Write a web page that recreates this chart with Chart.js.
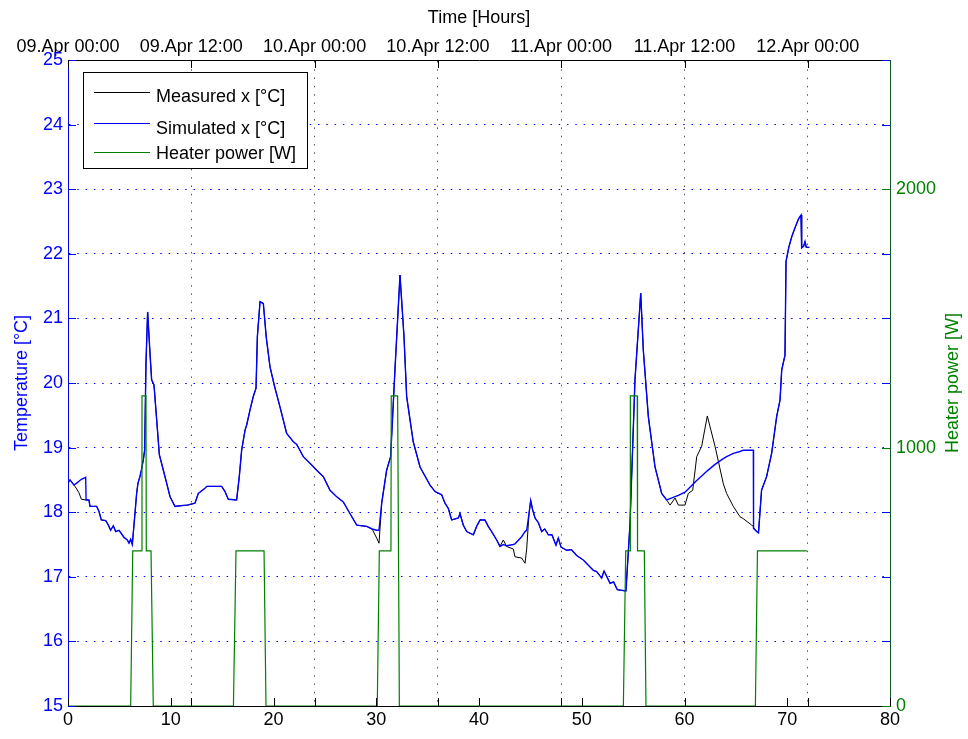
<!DOCTYPE html>
<html>
<head>
<meta charset="utf-8">
<script src="https://cdn.jsdelivr.net/npm/chart.js@4.4.1/dist/chart.umd.min.js"></script>
<style>
  html, body { margin: 0; padding: 0; background: #ffffff; }
  #wrap { width: 968px; height: 739px; }
</style>
</head>
<body>
<div id="wrap"><canvas id="c" width="968" height="739"></canvas></div>
<script>
// Time axis in hours since 09.Apr 00:00
const hours = [
  0.00, 0.10, 0.20, 0.58, 0.85, 1.07, 1.30, 1.72, 1.76, 2.04, 2.14, 2.79, 3.02, 3.24, 3.67, 3.93,
  4.15, 4.41, 4.64, 4.96, 5.19, 5.45, 5.77, 5.94, 6.10, 6.26, 6.49, 6.68, 6.81, 7.00, 7.14, 7.33,
  7.46, 7.59, 7.75, 7.98, 8.14, 8.37, 8.63, 8.89, 9.28, 9.60, 9.93, 10.41, 10.90, 11.61, 12.36, 12.68,
  13.33, 13.50, 14.96, 15.28, 15.60, 16.41, 16.67, 16.90, 17.23, 17.39, 17.71, 18.03, 18.30, 18.43, 18.69, 19.01,
  19.30, 19.66, 20.10, 20.63, 21.28, 21.93, 22.26, 22.90, 23.72, 24.20, 24.85, 25.50, 26.15, 26.79, 27.44, 28.10,
  29.07, 29.60, 30.04, 30.27, 30.53, 31.01, 31.40, 31.82, 32.31, 32.70, 32.96, 33.60, 34.26, 35.23, 35.72, 36.37,
  36.69, 37.01, 37.34, 37.99, 38.15, 38.47, 38.80, 39.45, 39.77, 40.10, 40.58, 40.90, 41.23, 41.72, 42.04, 42.37,
  42.69, 43.34, 43.50, 44.15, 44.48, 44.64, 44.87, 45.03, 45.20, 45.45, 45.77, 46.10, 46.40, 46.75, 47.10, 47.49,
  47.72, 47.98, 48.53, 49.00, 49.50, 50.15, 50.64, 51.13, 51.45, 51.94, 52.17, 52.45, 52.75, 53.10, 53.46, 54.30,
  54.70, 55.18, 55.74, 55.99, 56.48, 57.13, 57.78, 58.26, 58.60, 59.08, 59.40, 60.05, 60.37, 60.80, 61.19, 61.67,
  62.22, 62.97, 63.78, 64.10, 64.75, 65.40, 65.72, 66.54, 66.70, 66.72, 67.02, 67.20, 67.50, 67.99, 68.48, 68.97,
  69.30, 69.46, 69.78, 69.88, 70.15, 70.43, 70.70, 70.92, 71.10, 71.34, 71.40, 71.60, 71.73, 71.85, 72.15
];

// Measured room temperature [°C]
const measured = [
  18.45, 18.48, 18.50, 18.42, 18.36, 18.30, 18.20, 18.19, 18.19, 18.19, 18.09, 18.09, 18.01, 17.88, 17.87, 17.80,
  17.72, 17.79, 17.70, 17.72, 17.67, 17.61, 17.57, 17.52, 17.58, 17.50, 17.93, 18.29, 18.45, 18.55, 18.65, 18.81,
  18.96, 20.31, 21.10, 20.46, 20.05, 19.97, 19.43, 18.89, 18.65, 18.45, 18.24, 18.09, 18.10, 18.11, 18.14, 18.29,
  18.37, 18.40, 18.40, 18.32, 18.20, 18.19, 18.55, 18.96, 19.27, 19.35, 19.58, 19.79, 19.92, 20.72, 21.26, 21.23,
  20.70, 20.25, 19.95, 19.63, 19.22, 19.09, 19.05, 18.86, 18.73, 18.65, 18.55, 18.34, 18.24, 18.16, 17.98, 17.80,
  17.78, 17.74, 17.60, 17.52, 18.14, 18.65, 18.86, 20.20, 21.67, 20.72, 19.79, 19.09, 18.70, 18.42, 18.32, 18.27,
  18.14, 18.06, 17.88, 17.91, 17.98, 17.80, 17.70, 17.65, 17.78, 17.88, 17.88, 17.78, 17.70, 17.57, 17.47, 17.57,
  17.47, 17.43, 17.31, 17.29, 17.21, 17.43, 17.98, 18.18, 18.05, 17.91, 17.84, 17.70, 17.74, 17.65, 17.65, 17.49,
  17.60, 17.46, 17.41, 17.42, 17.33, 17.26, 17.18, 17.10, 17.08, 16.98, 17.09, 17.00, 16.90, 16.92, 16.80, 16.78,
  17.83, 20.05, 21.39, 20.51, 19.48, 18.70, 18.29, 18.19, 18.11, 18.22, 18.11, 18.11, 18.29, 18.34, 18.86, 19.02,
  19.49, 19.02, 18.44, 18.29, 18.09, 17.93, 17.90, 17.80, 17.78, 17.76, 17.70, 17.68, 18.34, 18.55, 18.91, 19.48,
  19.74, 20.20, 20.43, 21.88, 22.10, 22.26, 22.38, 22.47, 22.54, 22.60, 22.09, 22.12, 22.19, 22.10, 22.10
];

// Simulated room temperature [°C]
const simulated = [
  18.45, 18.48, 18.50, 18.42, 18.45, 18.48, 18.51, 18.54, 18.19, 18.19, 18.09, 18.09, 18.01, 17.88, 17.87, 17.80,
  17.72, 17.79, 17.70, 17.72, 17.67, 17.61, 17.57, 17.52, 17.58, 17.50, 17.93, 18.29, 18.45, 18.55, 18.65, 18.81,
  18.96, 20.31, 21.10, 20.46, 20.05, 19.97, 19.43, 18.89, 18.65, 18.45, 18.24, 18.09, 18.10, 18.11, 18.14, 18.29,
  18.37, 18.40, 18.40, 18.32, 18.20, 18.19, 18.55, 18.96, 19.27, 19.35, 19.58, 19.79, 19.92, 20.72, 21.26, 21.23,
  20.70, 20.25, 19.95, 19.63, 19.22, 19.09, 19.05, 18.86, 18.73, 18.65, 18.55, 18.34, 18.24, 18.16, 17.98, 17.80,
  17.78, 17.74, 17.72, 17.72, 18.14, 18.65, 18.86, 20.20, 21.67, 20.72, 19.79, 19.09, 18.70, 18.42, 18.32, 18.27,
  18.14, 18.06, 17.88, 17.91, 17.98, 17.80, 17.70, 17.65, 17.78, 17.88, 17.88, 17.78, 17.70, 17.57, 17.47, 17.50,
  17.48, 17.50, 17.51, 17.62, 17.70, 17.72, 17.98, 18.18, 18.05, 17.91, 17.84, 17.70, 17.74, 17.65, 17.65, 17.49,
  17.60, 17.46, 17.41, 17.42, 17.33, 17.26, 17.18, 17.10, 17.08, 16.98, 17.09, 17.00, 16.90, 16.92, 16.80, 16.78,
  17.83, 20.05, 21.39, 20.51, 19.48, 18.70, 18.29, 18.19, 18.21, 18.24, 18.26, 18.31, 18.36, 18.43, 18.49, 18.56,
  18.64, 18.74, 18.83, 18.86, 18.91, 18.94, 18.96, 18.96, 18.96, 17.75, 17.70, 17.68, 18.34, 18.55, 18.91, 19.48,
  19.74, 20.20, 20.43, 21.88, 22.10, 22.26, 22.38, 22.47, 22.54, 22.60, 22.09, 22.12, 22.19, 22.10, 22.10
];

// Heater power schedule [W]
const heaterHours = [
  0.00, 6.10, 6.30, 7.17, 7.20, 7.59, 7.62, 8.08, 8.30,
  16.10, 16.35, 19.08, 19.27,
  30.10, 30.30, 31.43, 31.46, 32.08, 32.25,
  54.05, 54.28, 54.70, 54.73, 55.40, 55.43, 56.09, 56.25,
  66.90, 67.10, 71.90
];
const heaterWatts = [
  0, 0, 600, 600, 1200, 1200, 600, 600, 0,
  0, 600, 600, 0,
  0, 600, 600, 1200, 1200, 0,
  0, 600, 600, 1200, 1200, 600, 600, 0,
  0, 600, 600
];

// Tick positions
const hourTicks = [0, 10, 20, 30, 40, 50, 60, 70, 80];
const dateTickHours = [0, 12, 24, 36, 48, 60, 72];
const dateLabels = [
  '09.Apr 00:00', '09.Apr 12:00', '10.Apr 00:00', '10.Apr 12:00',
  '11.Apr 00:00', '11.Apr 12:00', '12.Apr 00:00'
];
const tempTicks = [15, 16, 17, 18, 19, 20, 21, 22, 23, 24, 25];
const powerTicks = [0, 1000, 2000];

const BLUE = '#0000ff';
const GREEN = '#008000';
const FONT = "'Liberation Sans', Arial, Helvetica, sans-serif";

Chart.defaults.font.family = FONT;
Chart.defaults.font.size = 18;
Chart.defaults.color = '#000';

const toPoints = (xs, ys) => xs.map((x, i) => ({ x: x, y: ys[i] }));
const fixedTicks = values => scale => { scale.ticks = values.map(v => ({ value: v })); };

// Inward-pointing tick marks, as on a boxed engineering plot
const innerTicks = {
  id: 'innerTicks',
  afterDatasetsDraw(chart) {
    const { ctx, chartArea: a, scales } = chart;
    const len = 8;
    ctx.save();
    ctx.lineWidth = 1;
    const line = (x1, y1, x2, y2, c) => {
      ctx.strokeStyle = c;
      ctx.beginPath();
      ctx.moveTo(x1, y1);
      ctx.lineTo(x2, y2);
      ctx.stroke();
    };
    scales.y.ticks.forEach(t => {
      const y = Math.round(scales.y.getPixelForValue(t.value)) + 0.5;
      line(a.left, y, a.left + len, y, BLUE);
      line(a.right, y, a.right - len, y, BLUE);
    });
    scales.y2.ticks.forEach(t => {
      const y = Math.round(scales.y2.getPixelForValue(t.value)) + 0.5;
      line(a.right, y, a.right - len, y, GREEN);
    });
    scales.x.ticks.forEach(t => {
      const x = Math.round(scales.x.getPixelForValue(t.value)) + 0.5;
      line(x, a.bottom, x, a.bottom - len, '#000');
    });
    scales.xTop.ticks.forEach(t => {
      const x = Math.round(scales.xTop.getPixelForValue(t.value)) + 0.5;
      line(x, a.top, x, a.top + len, '#000');
      line(x, a.bottom, x, a.bottom - len, '#000');
    });
    ctx.restore();
  }
};

// Boxed legend in the upper-left corner of the plot area, plus the right axis title
const boxLegend = {
  id: 'boxLegend',
  afterDraw(chart) {
    const { ctx, chartArea: a } = chart;
    ctx.save();
    // right-hand axis title, reading bottom to top
    ctx.fillStyle = GREEN;
    ctx.font = '18px ' + FONT;
    ctx.textAlign = 'center';
    ctx.textBaseline = 'middle';
    ctx.translate(953, (a.top + a.bottom) / 2);
    ctx.rotate(-Math.PI / 2);
    ctx.fillText('Heater power [W]', 0, 0);
    ctx.restore();

    ctx.save();
    const bx = 83.5, by = 72.5, bw = 224, bh = 96;
    ctx.fillStyle = '#ffffff';
    ctx.fillRect(bx, by, bw, bh);
    ctx.strokeStyle = '#000';
    ctx.lineWidth = 1;
    ctx.strokeRect(bx, by, bw, bh);
    const rows = [
      { line: 92.5, base: 101.5 },
      { line: 123.5, base: 133.5 },
      { line: 152.5, base: 158.5 }
    ];
    ctx.font = '18px ' + FONT;
    ctx.textAlign = 'left';
    ctx.textBaseline = 'alphabetic';
    chart.data.datasets.forEach((ds, i) => {
      const r = rows[i];
      ctx.strokeStyle = ds.borderColor;
      ctx.lineWidth = 1;
      ctx.beginPath();
      ctx.moveTo(94, r.line);
      ctx.lineTo(150, r.line);
      ctx.stroke();
      ctx.fillStyle = '#000';
      ctx.fillText(ds.label, 156, r.base);
    });
    ctx.restore();
  }
};

const dotted = [1.5, 6.8];

new Chart(document.getElementById('c'), {
  type: 'line',
  data: {
    datasets: [
      {
        label: 'Measured x [°C]',
        data: toPoints(hours, measured),
        borderColor: '#000000',
        borderWidth: 1,
        pointRadius: 0,
        tension: 0,
        xAxisID: 'x',
        yAxisID: 'y',
        order: 3
      },
      {
        label: 'Simulated x [°C]',
        data: toPoints(hours, simulated),
        borderColor: BLUE,
        borderWidth: 1.4,
        pointRadius: 0,
        tension: 0,
        xAxisID: 'x',
        yAxisID: 'y',
        order: 2
      },
      {
        label: 'Heater power [W]',
        data: toPoints(heaterHours, heaterWatts),
        borderColor: GREEN,
        borderWidth: 1.2,
        pointRadius: 0,
        tension: 0,
        xAxisID: 'x',
        yAxisID: 'y2',
        order: 1
      }
    ]
  },
  options: {
    responsive: false,
    animation: false,
    layout: { padding: 0 },
    plugins: {
      legend: { display: false },
      tooltip: { enabled: false }
    },
    scales: {
      x: {
        type: 'linear',
        position: 'bottom',
        min: 0,
        max: 80,
        afterBuildTicks: fixedTicks(hourTicks),
        ticks: { color: '#000', padding: 3, maxRotation: 0, autoSkip: false, callback: v => String(v) },
        grid: { drawOnChartArea: false, drawTicks: false },
        border: { color: '#000', width: 1 },
        afterFit: s => { s.height = 33; }
      },
      xTop: {
        type: 'linear',
        position: 'top',
        min: 0,
        max: 80,
        afterBuildTicks: fixedTicks(dateTickHours),
        ticks: {
          autoSkip: false,
          maxRotation: 0,
          padding: 2,
          color: '#000',
          callback: v => dateLabels[dateTickHours.indexOf(v)] || ''
        },
        grid: {
          drawTicks: false,
          lineWidth: 1,
          color: c => (c.tick && c.tick.value > 0 ? '#555555' : 'rgba(0,0,0,0)')
        },
        border: { color: '#000', width: 1, dash: dotted },
        title: {
          display: true,
          text: 'Time [Hours]',
          color: '#000',
          font: { size: 18 },
          padding: { top: 7, bottom: 0 }
        },
        afterFit: s => { s.height = 60; }
      },
      y: {
        position: 'left',
        min: 15,
        max: 25,
        afterBuildTicks: fixedTicks(tempTicks),
        ticks: { color: BLUE, padding: 5, callback: v => String(v) },
        grid: {
          drawTicks: false,
          lineWidth: 1,
          color: c => (c.tick && c.tick.value > 15 && c.tick.value < 25 ? BLUE : 'rgba(0,0,0,0)')
        },
        border: { color: BLUE, width: 1, dash: dotted },
        title: {
          display: true,
          text: 'Temperature [°C]',
          color: BLUE,
          font: { size: 18 },
          padding: { top: 11, bottom: 0 }
        },
        afterFit: s => { s.width = 68; }
      },
      y2: {
        position: 'right',
        min: 0,
        max: 2500,
        afterBuildTicks: fixedTicks(powerTicks),
        ticks: { color: GREEN, padding: 6, callback: v => String(v) },
        grid: { drawOnChartArea: false, drawTicks: false },
        border: { color: '#0a5a2a', width: 1 },
        afterFit: s => { s.width = 78; }
      }
    }
  },
  plugins: [innerTicks, boxLegend]
});
</script>
</body>
</html>
